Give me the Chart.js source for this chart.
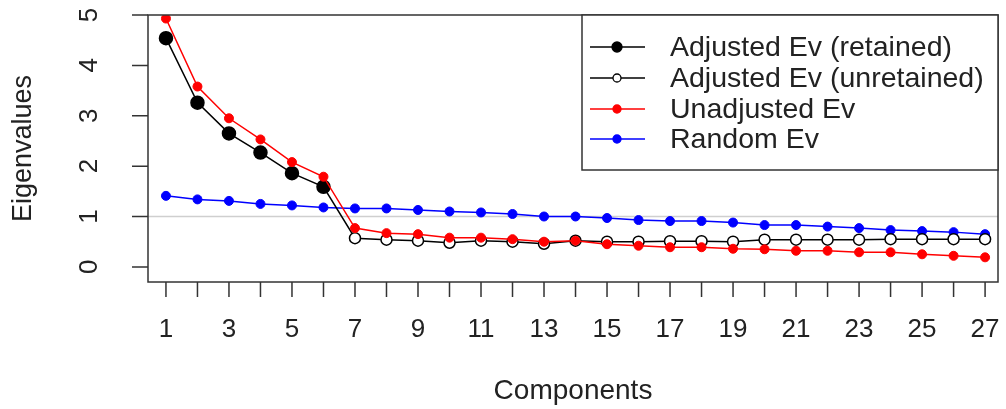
<!DOCTYPE html>
<html>
<head>
<meta charset="utf-8">
<script src="https://cdn.jsdelivr.net/npm/chart.js@4.4.0/dist/chart.umd.min.js"></script>
<style>
html,body{margin:0;padding:0;background:#fff;}
#wrap{width:1006px;height:409px;}
</style>
</head>
<body>
<div id="wrap"><canvas id="c" width="1006" height="409"></canvas></div>
<script>
const components = [1,2,3,4,5,6,7,8,9,10,11,12,13,14,15,16,17,18,19,20,21,22,23,24,25,26,27];
const adjustedEv = [4.54,3.26,2.65,2.27,1.86,1.59,0.57,0.54,0.52,0.48,0.52,0.50,0.46,0.52,0.50,0.50,0.51,0.51,0.50,0.54,0.54,0.54,0.54,0.55,0.55,0.55,0.55];
const retainedCount = 6;
const unadjustedEv = [4.93,3.58,2.95,2.53,2.08,1.79,0.77,0.67,0.65,0.58,0.58,0.55,0.50,0.52,0.45,0.42,0.39,0.39,0.36,0.35,0.32,0.32,0.29,0.29,0.25,0.22,0.19];
const randomEv = [1.41,1.34,1.31,1.25,1.22,1.18,1.16,1.16,1.13,1.10,1.08,1.05,1.00,1.00,0.97,0.93,0.91,0.91,0.88,0.83,0.83,0.80,0.77,0.73,0.71,0.69,0.65];
const xTickValues = components;
const xTickLabels = components.map(v => v % 2 === 1 ? String(v) : '');
const yTickValues = [0,1,2,3,4,5];
const yTickLabels = ['0','1','2','3','4','5'];
const referenceLine = 1;
const legendLabels = ['Adjusted Ev (retained)','Adjusted Ev (unretained)','Unadjusted Ev','Random Ev'];
const xTitle = 'Components';
const yTitle = 'Eigenvalues';

const FONT = '"Liberation Sans", Arial, sans-serif';
const AXIS = '#333';
const TEXT = '#222';

const pts = arr => arr.map((v,i) => ({x: components[i], y: v}));

const drawPlugin = {
  id: 'rstyle',
  beforeDatasetsDraw(chart) {
    const ctx = chart.ctx, a = chart.chartArea, ys = chart.scales.y;
    const py = ys.getPixelForValue(referenceLine);
    ctx.save();
    ctx.strokeStyle = '#cfcfcf';
    ctx.lineWidth = 1.5;
    ctx.beginPath(); ctx.moveTo(a.left, py); ctx.lineTo(a.right, py); ctx.stroke();
    ctx.restore();
  },
  afterDraw(chart) {
    const ctx = chart.ctx, a = chart.chartArea, xs = chart.scales.x, ys = chart.scales.y;
    ctx.save();
    ctx.strokeStyle = AXIS; ctx.lineWidth = 1.5;
    ctx.strokeRect(a.left, a.top, a.right - a.left, a.bottom - a.top);
    ctx.beginPath();
    xTickValues.forEach(v => { const px = xs.getPixelForValue(v); ctx.moveTo(px, a.bottom); ctx.lineTo(px, a.bottom + 15); });
    yTickValues.forEach(v => { const py = ys.getPixelForValue(v); ctx.moveTo(a.left, py); ctx.lineTo(a.left - 16, py); });
    ctx.stroke();
    ctx.fillStyle = TEXT;
    ctx.font = '26px ' + FONT;
    ctx.textAlign = 'center'; ctx.textBaseline = 'middle';
    xTickValues.forEach((v,i) => { if (xTickLabels[i]) ctx.fillText(xTickLabels[i], xs.getPixelForValue(v), 330); });
    yTickValues.forEach((v,i) => {
      ctx.save(); ctx.translate(90, ys.getPixelForValue(v)); ctx.rotate(-Math.PI/2);
      ctx.fillText(yTickLabels[i], 0, 0); ctx.restore();
    });
    ctx.font = '28px ' + FONT;
    ctx.fillText(xTitle, (a.left + a.right)/2, 391);
    ctx.font = '27px ' + FONT;
    ctx.save(); ctx.translate(24, (a.top + a.bottom)/2); ctx.rotate(-Math.PI/2);
    ctx.fillText(yTitle, 0, 0); ctx.restore();
    const lx = 582, ly = a.top, lw = a.right - lx, lh = 155;
    ctx.fillStyle = '#fff'; ctx.fillRect(lx, ly, lw, lh);
    ctx.strokeStyle = AXIS; ctx.lineWidth = 1.5; ctx.strokeRect(lx, ly, lw, lh);
    const rows = [47, 78, 109, 139];
    const styles = [
      {line:'#000', fill:'#000', stroke:'#000', r:5},
      {line:'#000', fill:'#fff', stroke:'#000', r:4},
      {line:'#ff0000', fill:'#ff0000', stroke:'#ff0000', r:4},
      {line:'#0000ff', fill:'#0000ff', stroke:'#0000ff', r:4}
    ];
    ctx.font = '28.5px ' + FONT; ctx.textAlign = 'left';
    rows.forEach((ry, i) => {
      const s = styles[i];
      ctx.strokeStyle = s.line; ctx.lineWidth = 1.5;
      ctx.beginPath(); ctx.moveTo(590, ry); ctx.lineTo(645, ry); ctx.stroke();
      ctx.beginPath(); ctx.arc(617, ry, s.r, 0, Math.PI*2);
      ctx.fillStyle = s.fill; ctx.fill(); ctx.strokeStyle = s.stroke; ctx.lineWidth = 1.3; ctx.stroke();
      ctx.fillStyle = TEXT; ctx.fillText(legendLabels[i], 670, ry + 1);
    });
    ctx.restore();
  }
};

new Chart(document.getElementById('c'), {
  type: 'line',
  data: {
    datasets: [
      {
        label: legendLabels[2], data: pts(unadjustedEv), order: 0,
        borderColor: '#ff0000', backgroundColor: '#ff0000', borderWidth: 1.5,
        pointRadius: 4.5, pointBackgroundColor: '#ff0000', pointBorderColor: '#ff0000', pointBorderWidth: 1,
        tension: 0
      },
      {
        label: 'Adjusted Ev', data: pts(adjustedEv), order: 1,
        borderColor: '#000', backgroundColor: '#000', borderWidth: 1.5,
        pointRadius: adjustedEv.map((v,i) => i < retainedCount ? 6.5 : 5.5),
        pointBackgroundColor: adjustedEv.map((v,i) => i < retainedCount ? '#000' : '#fff'),
        pointBorderColor: '#000', pointBorderWidth: 1.5,
        tension: 0
      },
      {
        label: legendLabels[3], data: pts(randomEv), order: 2,
        borderColor: '#0000ff', backgroundColor: '#0000ff', borderWidth: 1.5,
        pointRadius: 4.5, pointBackgroundColor: '#0000ff', pointBorderColor: '#0000ff', pointBorderWidth: 1,
        tension: 0
      }
    ]
  },
  options: {
    responsive: false,
    animation: false,
    devicePixelRatio: 1,
    layout: { padding: { top: 15, right: 3, left: 0, bottom: 0 } },
    plugins: { legend: { display: false }, tooltip: { enabled: false } },
    scales: {
      x: {
        type: 'linear', min: 0.43, max: 27.41,
        grid: { display: false }, border: { display: false }, ticks: { display: false },
        afterFit: s => { s.height = 127; }
      },
      y: {
        type: 'linear', min: -0.3, max: 5.0,
        grid: { display: false }, border: { display: false }, ticks: { display: false },
        afterFit: s => { s.width = 148; }
      }
    }
  },
  plugins: [drawPlugin]
});
</script>
</body>
</html>
